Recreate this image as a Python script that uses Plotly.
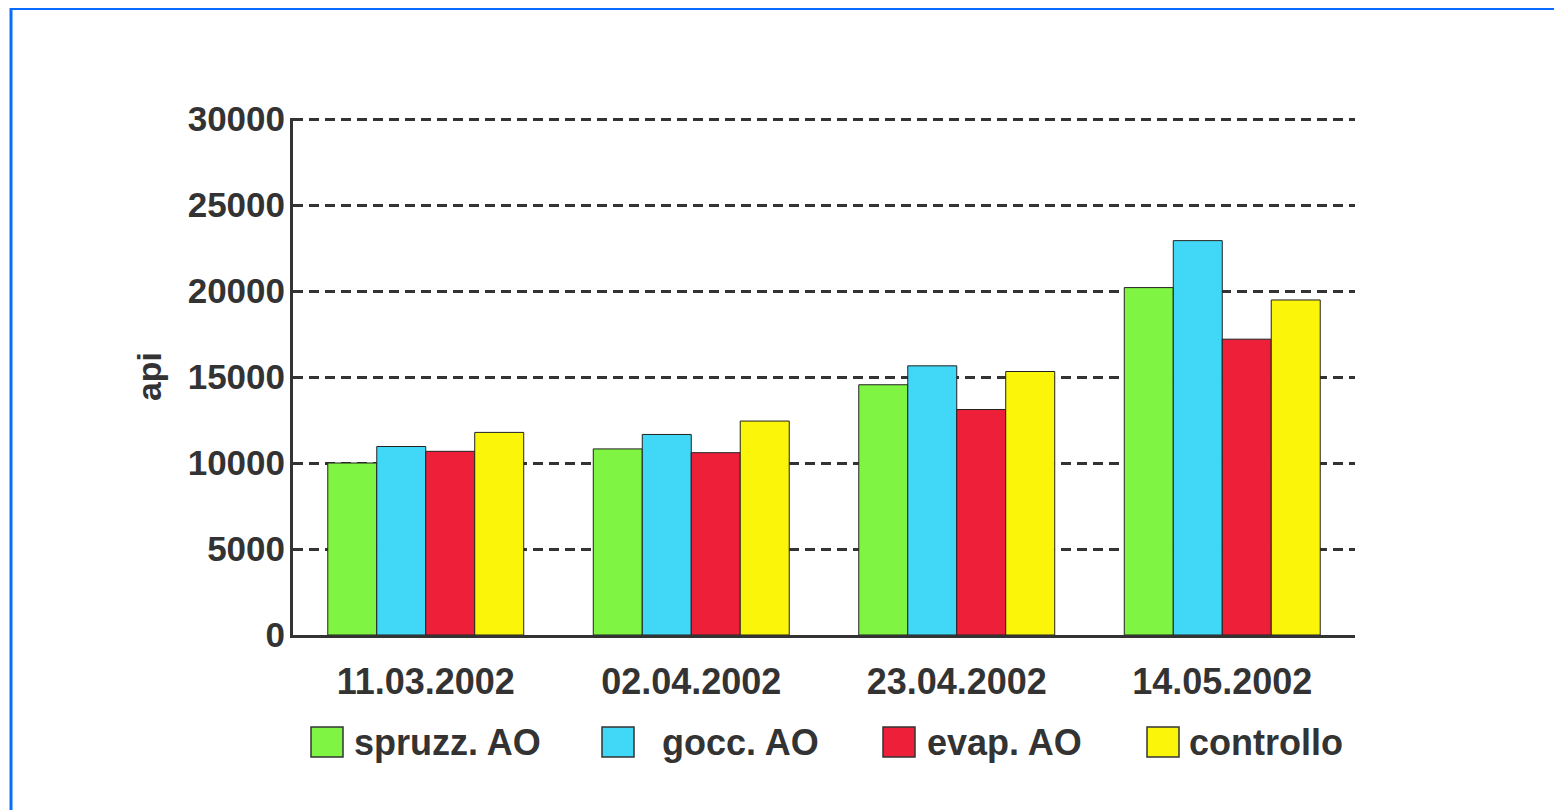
import plotly.graph_objects as go

dates = ["11.03.2002", "02.04.2002", "23.04.2002", "14.05.2002"]
series_names = ["spruzz. AO", " gocc. AO", "evap. AO", "controllo"]
spruzz = [10000, 10820, 14550, 20200]
gocc = [10960, 11660, 15650, 22930]
evap = [10680, 10600, 13110, 17200]
controllo = [11780, 12440, 15320, 19480]
colors = ["#7ff442", "#40d8f6", "#ee1f38", "#fbf50a"]
y_ticks = [0, 5000, 10000, 15000, 20000, 25000, 30000]

OFF = 8  # page body margin
W, H = 1562 - OFF, 810 - OFF
L, T = 293 - OFF, 118 - OFF
PW, PH = 1062, 517
R, B = W - L - PW, H - T - PH

def px(x):
    return (x - OFF - L) / PW

def py(y):
    return (T + PH - (y - OFF)) / PH

TXT = "#333333"
FONT = "Liberation Sans, Arial"
fig = go.Figure()
values = [spruzz, gocc, evap, controllo]
for name, vals, col in zip(series_names, values, colors):
    fig.add_trace(go.Bar(x=dates, y=vals, name=name,
                         marker=dict(color=col, line=dict(color="#222222", width=1)),
                         showlegend=False))

shapes = []
annotations = []
# custom legend
box_x = [311, 602, 883, 1147]
text_x = [352, 650, 925, 1187]
for bx, tx, name, col in zip(box_x, text_x, series_names, colors):
    shapes.append(dict(type="rect", xref="paper", yref="paper", x0=px(bx), x1=px(bx + 32), y0=py(757), y1=py(727),
                       fillcolor=col, line=dict(color="#333333", width=1.5)))
    annotations.append(dict(xref="paper", yref="paper", x=px(tx), y=py(742), text=name, showarrow=False,
                            xanchor="left", yanchor="middle",
                            font=dict(family=FONT, size=36, color=TXT, weight="bold")))
# blue page border (top and left)
shapes.append(dict(type="line", xref="paper", yref="paper", x0=px(10), x1=px(1562), y0=py(8.5), y1=py(8.5),
                   line=dict(color="#0a6cff", width=3)))
shapes.append(dict(type="line", xref="paper", yref="paper", x0=px(11), x1=px(11), y0=py(7), y1=py(810),
                   line=dict(color="#0a6cff", width=3)))

fig.update_layout(
    width=W, height=H,
    margin=dict(l=L, r=R, t=T, b=B),
    paper_bgcolor="white", plot_bgcolor="white",
    barmode="group", bargap=0.262, bargroupgap=0,
    font=dict(family=FONT, color=TXT),
    shapes=shapes, annotations=annotations,
    xaxis=dict(showline=True, linecolor="#333333", linewidth=3, showgrid=False,
               tickfont=dict(family=FONT, size=36, color=TXT, weight="bold"),
               ticks="outside", ticklen=13, tickcolor="rgba(0,0,0,0)"),
    yaxis=dict(range=[0, 30060], tickvals=y_ticks, ticktext=[str(v) for v in y_ticks],
               showline=True, linecolor="#333333", linewidth=3,
               showgrid=True, gridcolor="#333333", gridwidth=2.5, griddash="10px,6px",
               zeroline=False,
               tickfont=dict(family=FONT, size=35, color=TXT, weight="bold"),
               ticks="", ticklabelstandoff=-2,
               title=dict(text="api", font=dict(family=FONT, size=34, color=TXT, weight="bold"), standoff=16)),
)
fig.write_html("out.html")
